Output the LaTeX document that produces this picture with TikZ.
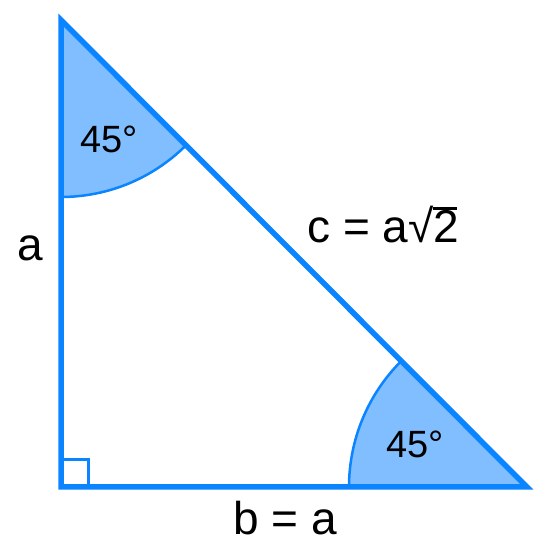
\documentclass[tikz,border=0pt]{standalone}
\usepackage{fontspec}
\setmainfont{Liberation Sans}
\definecolor{edgeblue}{RGB}{10,132,255}
\definecolor{fillblue}{RGB}{128,190,255}
\begin{document}
\begin{tikzpicture}[x=1pt,y=1pt,
  side/.style={line width=5.5pt,draw=edgeblue,line join=miter},
  sector/.style={fill=fillblue,draw=edgeblue,line width=2.5pt},
  rightmark/.style={draw=edgeblue,line width=3pt},
  biglabel/.style={font=\fontsize{46}{50}\selectfont,inner sep=0pt,anchor=base,text=black},
  anglelabel/.style={font=\fontsize{38}{42}\selectfont,inner sep=0pt,anchor=base,text=black}]
\useasboundingbox (0,0) rectangle (549,549);
\coordinate (A) at (61,529);
\coordinate (B) at (61,62);
\coordinate (C) at (527,62);
% sectors
\path[sector] (A) -- ++(270:177) arc[start angle=270,end angle=315,radius=177] -- cycle;
\path[sector] (C) -- ++(180:178) arc[start angle=180,end angle=135,radius=178] -- cycle;
% right angle mark
\draw[rightmark] (B) rectangle ++(27,27);
% triangle
\draw[side] (A) -- (B) -- (C) -- cycle;
% labels
\node[anglelabel] (topangle) at (109,396) {45°};
\node[anglelabel] (botangle) at (415,91) {45°};
\node[biglabel] (sidea) at (30,288) {a};
\node[biglabel] (sideb) at (285,14) {b = a};
\node[biglabel] (sidec) at (383,306) {c = a√\kern-0.5pt\rlap{\rule[33pt]{24pt}{3pt}}2};
\end{tikzpicture}
\end{document}
